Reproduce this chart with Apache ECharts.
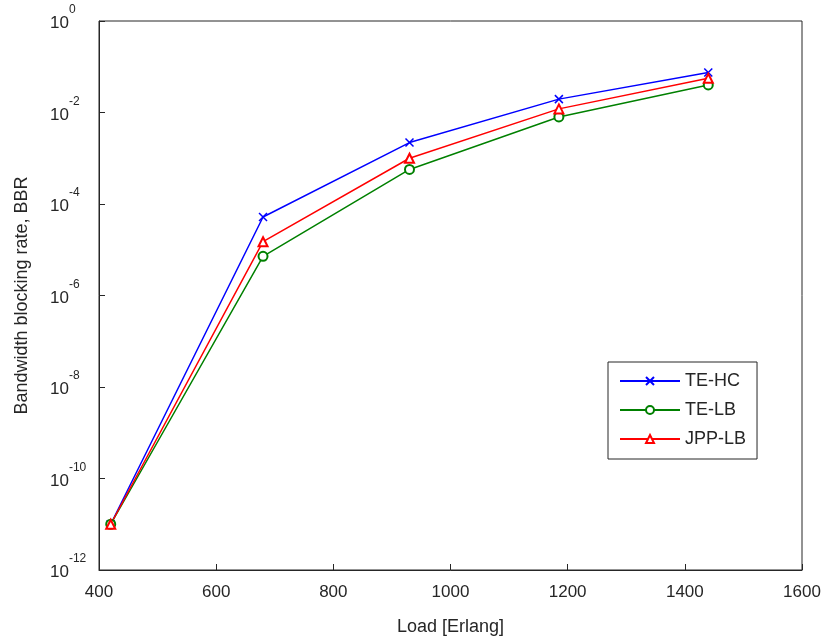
<!DOCTYPE html>
<html>
<head>
<meta charset="utf-8">
<script src="https://cdn.jsdelivr.net/npm/echarts@6/dist/echarts.min.js"></script>
<style>html,body{margin:0;padding:0;background:#fff}#c{width:829px;height:641px}</style>
</head>
<body>
<div id="c"></div>
<script>
const loads = [420, 680, 930, 1185, 1440];
const teHC = [1e-11, 5.2e-5, 2.2e-3, 1.96e-2, 7.5e-2];
const teLB = [1e-11, 7.2e-6, 5.7e-4, 8e-3, 4e-2];
const jppLB = [1e-11, 1.5e-5, 1e-3, 1.2e-2, 5.6e-2];
const xTicks = [400, 600, 800, 1000, 1200, 1400, 1600];
const seriesNames = ['TE-HC', 'TE-LB', 'JPP-LB'];

const font = 'Liberation Sans, Arial, sans-serif';
const axisColor = '#262626';
const pair = (ys) => loads.map((x, i) => [x, ys[i]]);
const crossPath = 'path://M0,0L10,10M10,0L0,10';

const chart = echarts.init(document.getElementById('c'), null, {renderer: 'canvas'});
chart.setOption({
  backgroundColor: '#fff',
  animation: false,
  grid: {left: 99, right: 27, top: 21, bottom: 65, show: true, borderColor: axisColor, borderWidth: 1, backgroundColor: 'transparent'},
  xAxis: {
    type: 'value', min: xTicks[0], max: xTicks[xTicks.length - 1], interval: 200,
    name: 'Load [Erlang]', nameLocation: 'middle', nameGap: 48,
    nameTextStyle: {fontFamily: font, fontSize: 18, color: '#262626'},
    axisLine: {lineStyle: {color: axisColor}},
    axisTick: {inside: true, length: 6, lineStyle: {color: axisColor}},
    axisLabel: {fontFamily: font, fontSize: 17, color: '#262626', margin: 14,
      formatter: function (v) { return String(v); }},
    splitLine: {show: false}
  },
  yAxis: {
    type: 'log', logBase: 10, min: 1e-12, max: 1, interval: 2,
    name: 'Bandwidth blocking rate, BBR', nameLocation: 'middle', nameGap: 68,
    nameTextStyle: {fontFamily: font, fontSize: 18, color: '#262626'},
    axisLine: {lineStyle: {color: axisColor}},
    axisTick: {inside: true, length: 6, lineStyle: {color: axisColor}},
    minorTick: {show: false},
    axisLabel: {
      margin: 49, align: 'left', padding: [0, 0, 6, 0],
      formatter: function (v) {
        const e = Math.round(Math.log10(v));
        return '{b|10}{s|' + e + '}';
      },
      rich: {
        b: {fontFamily: font, fontSize: 17, color: '#262626', lineHeight: 28, verticalAlign: 'bottom'},
        s: {fontFamily: font, fontSize: 12, color: '#262626', lineHeight: 28, verticalAlign: 'top'}
      }
    },
    splitLine: {show: false}
  },
  legend: {
    orient: 'vertical', left: 608, top: 362,
    data: seriesNames,
    backgroundColor: '#fff', borderColor: axisColor, borderWidth: 1,
    padding: [10, 11, 11, 11], itemWidth: 60, itemHeight: 10, itemGap: 11,
    textStyle: {fontFamily: font, fontSize: 18, color: '#262626'}
  },
  series: [
    {name: seriesNames[0], type: 'line', data: pair(teHC), symbol: crossPath, symbolSize: 8,
     lineStyle: {color: '#0000ff', width: 1.5}, itemStyle: {color: '#0000ff', borderColor: '#0000ff', borderWidth: 1.5}},
    {name: seriesNames[1], type: 'line', data: pair(teLB), symbol: 'emptyCircle', symbolSize: 9,
     lineStyle: {color: '#008000', width: 1.5}, itemStyle: {color: '#008000', borderColor: '#008000', borderWidth: 1.5}},
    {name: seriesNames[2], type: 'line', data: pair(jppLB), symbol: 'emptyTriangle', symbolSize: 9,
     lineStyle: {color: '#ff0000', width: 1.5}, itemStyle: {color: '#ff0000', borderColor: '#ff0000', borderWidth: 1.5}}
  ]
});
</script>
</body>
</html>
